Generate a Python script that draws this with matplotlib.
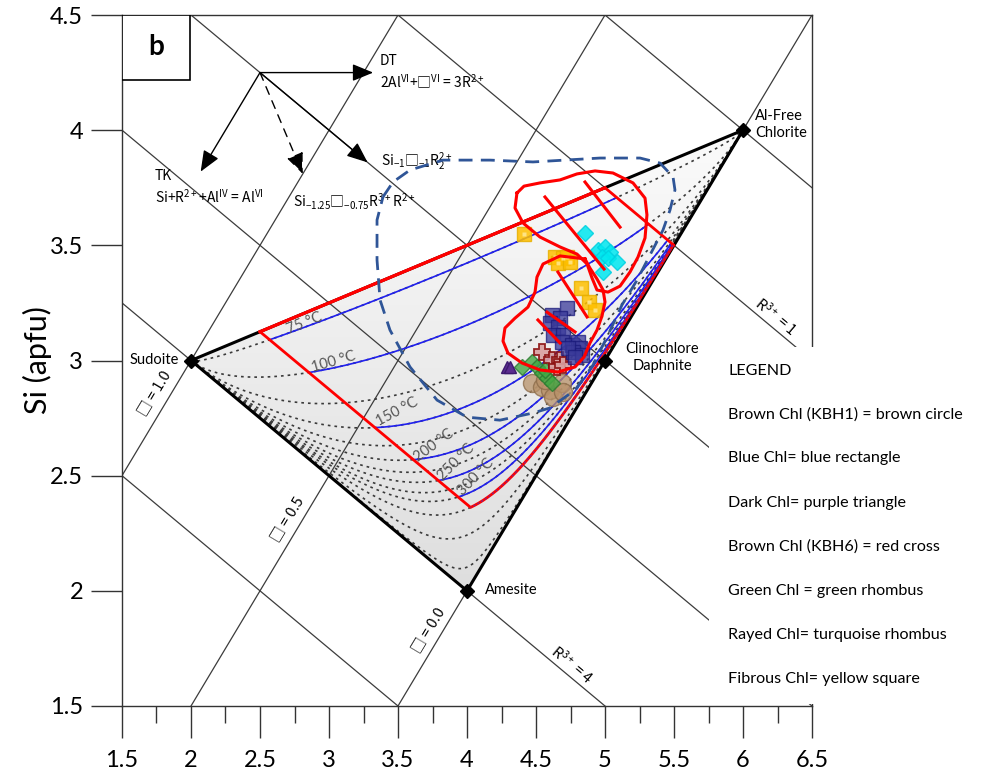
import numpy as np
import matplotlib
matplotlib.use("Agg")
import matplotlib.pyplot as plt
from matplotlib.patches import Polygon, Rectangle
from matplotlib.colors import LinearSegmentedColormap

plt.rcParams["font.family"] = ["Lato", "Noto Sans CJK SC", "DejaVu Sans"]
plt.rcParams["mathtext.fontset"] = "custom"
plt.rcParams["mathtext.rm"] = "Noto Sans CJK SC"
plt.rcParams["mathtext.it"] = "Noto Sans CJK SC"
plt.rcParams["mathtext.bf"] = "Noto Sans CJK SC:bold"
plt.rcParams["mathtext.fallback"] = "stixsans"

LBL = "Noto Sans CJK SC"

# ---------------- end-members (R2+ apfu, Si apfu) ----------------
em_names = ["Sudoite", "Amesite", "Clinochlore\nDaphnite", "Al-Free\nChlorite"]
em_r2 = [2.0, 4.0, 5.0, 6.0]
em_si = [3.0, 2.0, 3.0, 4.0]

# ---------------- isopleths ----------------
vacancy_levels = [1.0, 0.5, 0.0]        # Si = R2 + 3*vac - 2
vacancy_labels = ["□ = 1.0", "□ = 0.5", "□ = 0.0"]
r3_levels = [0, 1, 2, 3, 4, 5]          # Si = 7 - 0.75*R3 - R2/2

# ---------------- isotherms (conic weight towards amesite) ----------------
iso_temps = [75, 100, 150, 200, 250, 300]
iso_weights = [0.054, 0.30, 0.87, 1.39, 1.91, 2.56]
iso_label_x = [2.82, 3.03, 3.49, 3.76, 3.92, 4.065]
iso_label_y = [3.163, 2.993, 2.776, 2.633, 2.559, 2.494]
iso_label_rot = [22, 16, 28, 36, 45, 46]
dotted_weights = [0.054, 0.30, 0.58, 0.87, 1.13, 1.39, 1.65, 1.91,
                  2.23, 2.56, 3.22, 5.2, 13.6]
limit_weight = 3.22
calib_r3 = [1.0, 3.5]

# ---------------- chlorite analyses ----------------
fibrous_r2 = [4.413, 4.638, 4.696, 4.725, 4.659, 4.746, 4.826, 4.883, 4.926]
fibrous_si = [3.549, 3.449, 3.445, 3.449, 3.423, 3.428, 3.315, 3.254, 3.219]

rayed_r2 = [4.855, 4.949, 4.999, 5.036, 4.977, 5.022, 5.087, 4.984]
rayed_si = [3.553, 3.480, 3.493, 3.471, 3.449, 3.445, 3.428, 3.384]

blue_r2 = [4.725, 4.616, 4.674, 4.601, 4.659, 4.623, 4.696, 4.688,
           4.761, 4.804, 4.819, 4.768, 4.732, 4.833, 4.783]
blue_si = [3.228, 3.197, 3.184, 3.163, 3.145, 3.111, 3.111, 3.080,
           3.067, 3.080, 3.054, 3.037, 3.054, 3.024, 3.015]

kbh6_r2 = [4.543, 4.616, 4.674, 4.652, 4.696]
kbh6_si = [3.037, 3.002, 3.002, 2.972, 2.980]

dark_r2 = [4.290, 4.312]
dark_si = [2.972, 2.972]

green_r2 = [4.399, 4.471, 4.507, 4.543, 4.580, 4.616, 4.565]
green_si = [2.972, 2.993, 2.972, 2.946, 2.924, 2.902, 2.959]

kbh1_r2 = [4.471, 4.543, 4.601, 4.623, 4.688, 4.696, 4.565]
kbh1_si = [2.902, 2.885, 2.872, 2.841, 2.902, 2.863, 2.915]

# ---------------- outlined fields ----------------
lobe1_r2 = [4.362, 4.413, 4.529, 4.674, 4.797, 4.928, 5.058, 5.203, 5.290,
            5.304, 5.290, 5.239, 5.181, 5.109, 5.022, 4.942, 4.906, 4.870,
            4.797, 4.674, 4.529, 4.406, 4.348, 4.362]
lobe1_si = [3.727, 3.757, 3.771, 3.784, 3.810, 3.823, 3.814, 3.771, 3.705,
            3.632, 3.532, 3.449, 3.384, 3.323, 3.297, 3.306, 3.358, 3.419,
            3.462, 3.493, 3.536, 3.597, 3.662, 3.727]
lobe2_r2 = [4.855, 4.674, 4.551, 4.507, 4.493, 4.442, 4.348, 4.275, 4.261,
            4.297, 4.399, 4.529, 4.659, 4.783, 4.848, 4.891, 4.942, 4.978,
            5.000, 4.986, 4.942, 4.891, 4.855]
lobe2_si = [3.441, 3.454, 3.419, 3.362, 3.297, 3.232, 3.184, 3.141, 3.084,
            3.032, 2.989, 2.959, 2.950, 2.972, 3.015, 3.076, 3.132, 3.193,
            3.254, 3.306, 3.354, 3.401, 3.441]
hatch_r2 = [(4.565, 4.993), (4.855, 5.109), (4.659, 4.870), (4.580, 4.783), (4.514, 4.674)]
hatch_si = [(3.710, 3.397), (3.775, 3.579), (3.384, 3.189), (3.210, 3.124), (3.176, 3.076)]

field_r2 = [3.391, 3.464, 3.587, 3.826, 4.167, 4.478, 4.964, 5.254, 5.399, 5.493,
            5.507, 5.471, 5.420, 5.326, 5.232, 5.123, 5.022, 4.913, 4.783, 4.601,
            4.478, 4.239, 4.000, 3.783, 3.587, 3.442, 3.370, 3.348, 3.348, 3.391]
field_si = [3.710, 3.775, 3.827, 3.870, 3.870, 3.862, 3.879, 3.879, 3.857, 3.797,
            3.740, 3.653, 3.566, 3.458, 3.349, 3.241, 3.111, 2.980, 2.872, 2.794,
            2.772, 2.741, 2.754, 2.828, 2.972, 3.132, 3.263, 3.436, 3.610, 3.710]

legend_lines = ["LEGEND",
                "Brown Chl (KBH1) = brown circle",
                "Blue Chl= blue rectangle",
                "Dark Chl= purple triangle",
                "Brown Chl (KBH6) = red cross",
                "Green Chl = green rhombus",
                "Rayed Chl= turquoise rhombus",
                "Fibrous Chl= yellow square"]

xtick_vals = [1.5, 2, 2.5, 3, 3.5, 4, 4.5, 5, 5.5, 6, 6.5]
xtick_text = ["1.5", "2", "2.5", "3", "3.5", "4", "4.5", "5", "5.5", "6", "6.5"]
ytick_vals = [1.5, 2, 2.5, 3, 3.5, 4, 4.5]
ytick_text = ["1.5", "2", "2.5", "3", "3.5", "4", "4.5"]

# ================================================================
S = np.array([em_r2[0], em_si[0]])
A = np.array([em_r2[1], em_si[1]])
F = np.array([em_r2[3], em_si[3]])


def iso_curve(w, n=5000):
    t = np.linspace(0.0, 1.0, n)
    b0, b1, b2 = (1 - t) ** 2, 2 * w * t * (1 - t), t ** 2
    d = b0 + b1 + b2
    x = (b0 * S[0] + b1 * A[0] + b2 * F[0]) / d
    y = (b0 * S[1] + b1 * A[1] + b2 * F[1]) / d
    return x, y, b2 / d


fig = plt.figure(figsize=(9.81, 7.74), dpi=100)
ax = fig.add_axes([122 / 981, 1 - 706 / 774, 690 / 981, 691 / 774])

# shaded composition triangle
tri = Polygon([S, A, F], closed=True, transform=ax.transData,
              facecolor="none", edgecolor="none")
ax.add_patch(tri)
cmap = LinearSegmentedColormap.from_list("shade", ["#dedede", "#fbfbfb"])
grad = np.linspace(0, 1, 256).reshape(-1, 1)
im = ax.imshow(grad, extent=(2, 6, 2, 4), origin="lower", cmap=cmap,
               aspect="auto", zorder=0.5)
im.set_clip_path(tri)

# isopleth grid
xs = np.array([1.5, 6.5])
for v in vacancy_levels:
    ax.plot(xs, xs + 3 * v - 2, color="#3c3c3c", lw=0.9, zorder=1)
for r in r3_levels:
    ax.plot(xs, 7 - 0.75 * r - xs / 2, color="#3c3c3c", lw=0.9, zorder=1)

# dotted isotherm family
for w in dotted_weights:
    x, y, _ = iso_curve(w)
    ax.plot(x, y, color="#3a3a3a", lw=1.2, ls=(0, (1.6, 2.4)), zorder=1.5)

# calibration field
g_lo, g_hi = 1 - calib_r3[1] / 4, 1 - calib_r3[0] / 4
lx, ly, lg = iso_curve(limit_weight)
m = (lg >= g_lo) & (lg <= g_hi)
lim_x, lim_y = lx[m][::-1], ly[m][::-1]
p_tl = S + g_lo * (F - S)
p_tr = S + g_hi * (F - S)
p_r = A + g_hi * (F - A)
field_pts = np.vstack([[p_tl, p_tr, p_r], np.column_stack([lim_x, lim_y]), [p_tl]])
calib = Polygon(field_pts, closed=True, transform=ax.transData,
                facecolor="none", edgecolor="none")
ax.add_patch(calib)

for w in iso_weights:
    x, y, _ = iso_curve(w)
    ln, = ax.plot(x, y, color="#2020ee", lw=1.2, zorder=2)
    ln.set_clip_path(calib)

ax.plot(field_pts[:, 0], field_pts[:, 1], color="#ff0000", lw=2.0, zorder=2.6)
ax.plot(lim_x, lim_y, color="#6a2a9a", lw=0.8, ls=(0, (2, 2)), zorder=2.7)

for T, tx, ty, rot in zip(iso_temps, iso_label_x, iso_label_y, iso_label_rot):
    ax.text(tx, ty, f"{T} °C", fontsize=10.5, color="#555555", rotation=rot,
            ha="center", va="center", rotation_mode="anchor", zorder=3)

# triangle outline and end-members
ax.plot([S[0], A[0], F[0], S[0]], [S[1], A[1], F[1], S[1]], color="black",
        lw=2.2, zorder=2.4, solid_joinstyle="miter")
ax.plot(field_pts[:2, 0], field_pts[:2, 1], color="#ff0000", lw=2.2, zorder=2.6)
ax.plot(em_r2, em_si, ls="none", marker="D", ms=7, color="black", zorder=7)

ax.text(1.91, 3.0, em_names[0], fontsize=10.5, ha="right", va="center", zorder=7)
ax.text(4.13, 2.005, em_names[1], fontsize=10.5, ha="left", va="center", zorder=7)
ax.text(5.413, 3.013, em_names[2], fontsize=10.5, ha="center", va="center",
        linespacing=1.25, zorder=7)
ax.text(6.09, 4.023, em_names[3], fontsize=10.5, ha="left", va="center",
        linespacing=1.25, zorder=7)

# isopleth labels
vac_pos = [(1.74, 2.86), (2.70, 2.31), (3.72, 1.83)]
for (vx, vy), lab in zip(vac_pos, vacancy_labels):
    ax.text(vx, vy, lab, fontsize=10.5, rotation=59, ha="center", va="center",
            rotation_mode="anchor", family=LBL, zorder=3)
ax.text(4.765, 1.68, r"R$^{3+}$ = 4", fontsize=10.5, rotation=-40, family=LBL,
        ha="center", va="center", rotation_mode="anchor", zorder=3)
ax.text(6.24, 3.19, r"R$^{3+}$ = 1", fontsize=10.5, rotation=-40, family=LBL,
        ha="center", va="center", rotation_mode="anchor", zorder=3)

# exchange vectors
origin = (2.5, 4.25)
vec_ends = [(3.32, 4.25), (2.07, 3.82), (3.28, 3.86), (2.81, 3.81)]
vec_styles = ["-", "-", "-", (0, (6, 5))]
for end, ls in zip(vec_ends, vec_styles):
    ax.annotate("", xy=end, xytext=origin,
                arrowprops=dict(arrowstyle="-|>,head_length=0.8,head_width=0.33",
                                color="black", lw=1.0, ls=ls,
                                mutation_scale=16, shrinkA=0, shrinkB=0),
                zorder=3)
ax.text(3.37, 4.30, "DT", fontsize=10, ha="left", va="center", family=LBL)
ax.text(3.37, 4.21, r"2Al$^{\mathrm{VI}}$+□$^{\mathrm{VI}}$ = 3R$^{\mathrm{2+}}$",
        fontsize=10, ha="left", va="center", family=LBL)
ax.text(3.377, 3.865, r"Si$_{\mathrm{-1}}$□$_{\mathrm{-1}}$R$_{\mathrm{2}}^{\mathrm{2+}}$",
        fontsize=10, ha="left", va="center", family=LBL, zorder=3)
ax.text(1.739, 3.80, "TK", fontsize=10, ha="left", va="center", family=LBL)
ax.text(1.739, 3.71, r"Si+R$^{\mathrm{2+}}$+Al$^{\mathrm{IV}}$ = Al$^{\mathrm{VI}}$",
        fontsize=10, ha="left", va="center", family=LBL)
ax.text(2.74, 3.69, r"Si$_{\mathrm{-1.25}}$□$_{\mathrm{-0.75}}$R$^{\mathrm{3+}}$R$^{\mathrm{2+}}$",
        fontsize=10, ha="left", va="center", family=LBL)

# analyses
ax.plot(kbh1_r2, kbh1_si, ls="none", marker="o", ms=13, mfc="#b8926a",
        mec="#8a6a48", alpha=0.75, zorder=4)
ax.plot(green_r2, green_si, ls="none", marker="D", ms=8, mfc="#43a843",
        mec="#2a7a30", alpha=0.8, zorder=4.1)
ax.plot(dark_r2, dark_si, ls="none", marker="^", ms=9, mfc="#5b2c8f",
        mec="#3d1a6e", zorder=4.2)
ax.plot(kbh6_r2, kbh6_si, ls="none", marker="P", ms=12, mfc="#d9a0a0",
        mec="#8b1010", mew=1.3, alpha=0.9, zorder=4.3)
ax.plot(blue_r2, blue_si, ls="none", marker="s", ms=10, mfc="#3a3a9a",
        mec="#1a1a7a", alpha=0.75, zorder=4.4)
ax.plot(rayed_r2, rayed_si, ls="none", marker="D", ms=8, mfc="#00e8f0",
        mec="#00d0e0", alpha=0.85, zorder=4.5)
ax.plot(fibrous_r2, fibrous_si, ls="none", marker="s", ms=10, mfc="#ffc000",
        mec="#e8b000", alpha=0.85, zorder=4.6)
ax.plot(fibrous_r2, fibrous_si, ls="none", marker="s", ms=3, mfc="#fff0b0",
        mec="none", alpha=0.7, zorder=4.7)

# outlined fields
ax.plot(field_r2, field_si, color="#2f5597", lw=2.0, ls=(0, (5, 3)), zorder=4.8)
ax.plot(lobe1_r2, lobe1_si, color="#ff0000", lw=2.2, zorder=5,
        solid_joinstyle="round")
ax.plot(lobe2_r2, lobe2_si, color="#ff0000", lw=2.2, zorder=5,
        solid_joinstyle="round")
for hx, hy in zip(hatch_r2, hatch_si):
    ax.plot(hx, hy, color="#ff0000", lw=2.2, zorder=5)

# axes styling
ax.set_xlim(1.5, 6.5)
ax.set_ylim(1.5, 4.5)
ax.set_xticks(xtick_vals)
ax.set_xticklabels(xtick_text)
ax.set_xticks(np.arange(1.75, 6.5, 0.5), minor=True)
ax.set_yticks(ytick_vals)
ax.set_yticklabels(ytick_text)
ax.tick_params(axis="x", which="major", length=23, width=1, pad=9,
               labelsize=17, color="#333333")
ax.tick_params(axis="x", which="minor", length=12, width=1, color="#333333")
ax.tick_params(axis="y", which="major", length=22, width=1, pad=6,
               labelsize=17, color="#333333")
for sp in ax.spines.values():
    sp.set_color("#333333")
    sp.set_linewidth(1.0)
ax.set_ylabel("Si (apfu)", fontsize=22)
ax.yaxis.set_label_coords(-0.101, 0.5)

# panel tag
ax.add_patch(Rectangle((0, 1 - 65 / 691), 68 / 690, 65 / 691, transform=ax.transAxes,
                       facecolor="white", edgecolor="black", lw=1.2, zorder=8))
ax.text(34 / 690, 1 - 32 / 691, "b", transform=ax.transAxes, fontsize=20,
        fontweight="bold", ha="center", va="center", zorder=9)

# legend panel
ax.add_patch(Rectangle((5.75, 1.508), 1.2, 3.06 - 1.508, facecolor="white",
                       edgecolor="none", zorder=6, clip_on=False))
leg_y = [371, 415, 458, 503, 547, 591, 635, 679]
for txt, py in zip(legend_lines, leg_y):
    fig.text(728 / 981, 1 - py / 774, txt, fontsize=11.6, ha="left", va="center")

fig.savefig("out.png", dpi=100)
